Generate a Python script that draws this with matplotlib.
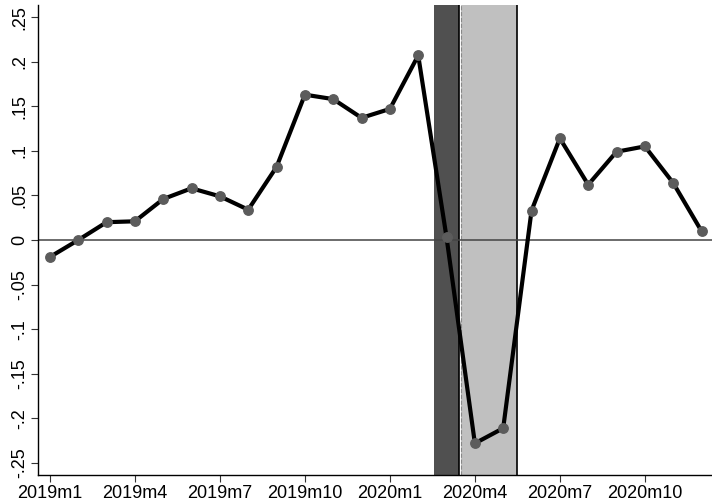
import matplotlib
matplotlib.use('Agg')
import matplotlib.pyplot as plt

plt.rcParams['font.family'] = ['Liberation Sans', 'DejaVu Sans']

# monthly values, 2019m1 .. 2020m12
months = ['2019m1', '2019m2', '2019m3', '2019m4', '2019m5', '2019m6',
          '2019m7', '2019m8', '2019m9', '2019m10', '2019m11', '2019m12',
          '2020m1', '2020m2', '2020m3', '2020m4', '2020m5', '2020m6',
          '2020m7', '2020m8', '2020m9', '2020m10', '2020m11', '2020m12']
values = [-0.019, 0.0, 0.020, 0.021, 0.046, 0.058, 0.049, 0.034, 0.082,
          0.163, 0.158, 0.137, 0.147, 0.207, 0.003, -0.228, -0.211, 0.033,
          0.114, 0.062, 0.099, 0.105, 0.064, 0.010]

yticks = [-0.25, -0.2, -0.15, -0.1, -0.05, 0, 0.05, 0.1, 0.15, 0.2, 0.25]
ytick_labels = ['-.25', '-.2', '-.15', '-.1', '-.05', '0', '.05', '.1', '.15', '.2', '.25']
xtick_idx = [0, 3, 6, 9, 12, 15, 18, 21]

x = list(range(len(values)))

fig = plt.figure(figsize=(7.12, 5.04), dpi=100)
ax = fig.add_axes([0.0534, 0.0575, 0.9466, 0.9325])

# shaded periods
ax.axvspan(13.55, 14.45, color='#505050', lw=0, zorder=1)
ax.axvspan(14.5, 16.5, color='#c0c0c0', lw=0, zorder=1)
ax.axvline(14.45, color='black', lw=1.2, zorder=2)
ax.axvline(14.52, color='#888888', lw=0.8, ls='--', zorder=2)
ax.axvline(16.5, color='black', lw=1.2, zorder=2)

ax.axhline(0, color='#444444', lw=1.1, zorder=2)

ax.plot(x, values, color='black', lw=3, zorder=3)
ax.plot(x, values, 'o', color='#5c5c5c', ms=6.8, zorder=4)

ax.set_xlim(-0.42, 23.37)
ax.set_ylim(-0.2635, 0.2635)
ax.set_xticks(xtick_idx)
ax.set_xticklabels([months[i] for i in xtick_idx], fontsize=13)
ax.set_yticks(yticks)
ax.set_yticklabels(ytick_labels, fontsize=13, rotation=90, va='center')

for s in ['top', 'right']:
    ax.spines[s].set_visible(False)
ax.spines['left'].set_linewidth(1.0)
ax.spines['bottom'].set_linewidth(1.0)
ax.tick_params(direction='out', length=5, width=0.8, color='#333333', pad=2)

fig.savefig('out.png', dpi=100)
